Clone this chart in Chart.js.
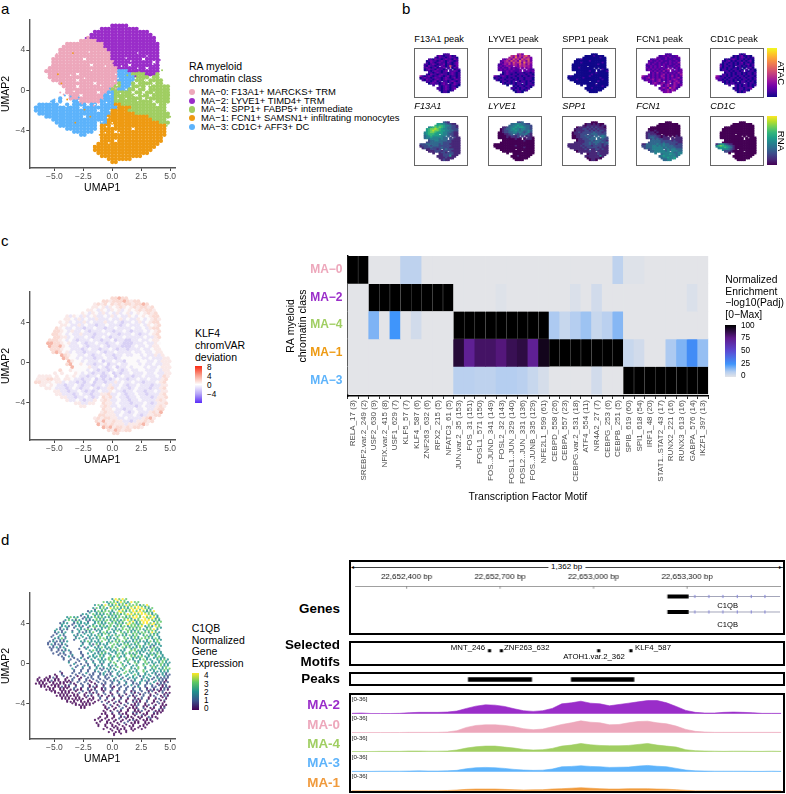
<!DOCTYPE html>
<html>
<head>
<meta charset="utf-8">
<script src="https://cdn.jsdelivr.net/npm/chart.js@4"></script>
<style>
html,body{margin:0;padding:0;background:#fff;}
body{position:relative;width:786px;height:794px;overflow:hidden;font-family:"Liberation Sans",Arial,sans-serif;}
canvas{position:absolute;}
.t{position:absolute;white-space:nowrap;transform:translateY(-50%);line-height:1;color:#000;}
.box{position:absolute;box-sizing:border-box;border:2.4px solid #000;}
.bar{position:absolute;}
</style>
</head>
<body>
<script>
// ---- data ----
var clusterColors = {ma0:'#eda7bb', ma2:'#9a2dc9', ma4:'#a0ce62', ma1:'#ee9a12', ma3:'#5db3fb'};

// UMAP panels are stored as bins: x from -6.9 step 0.3, y from 6.4 step -0.3, top row first, spaces ignored
var gridX0 = -6.9, gridY0 = 6.4, gridStep = 0.3;

// panel a: dominant cluster per bin (k MA-0, u MA-2, g MA-4, o MA-1, b MA-3)
var clusterRows = [
"..........  ..........  ...uuuuu",
"..........  ..........  uuuuuuuuuu  u",
"..........  ........uu  uuuuuuuuuu  uuuu",
"..........  .......uuu  uuuuuuuuuu  uuuuu",
"..........  ......kuuu  uuuuuuuuuu  uuuuuu",
"..........  ....kkkkku  uuuuuuuuuu  uuuuuu",
"..........  kkkkkkkkkk  kuuuuuuuuu  uuuuuuu",
".........k  kkkkkkkkkk  kuuuuuuuuu  uuuuuuu",
"........kk  kkkkkkkkkk  kkuuuuuuuu  uuuuuuu",
"........kk  kkkkkkkkkk  kkkuuuuuuu  uuuuuuu",
".......kkk  kkkkkkkkkk  kkkuuuuuuu  uuuuuuu",
"......kkkk  kkkkk.kkkk  kkkuuuuuuu  uu.uuuu",
"......kkkk  kkkkkkkkkk  kkkkuuuuuu  uuuuu.u",
"......kkkk  kkkkkkk.kk  kkkkuuuu.u  uuuuuuu",
".....kkkkk  kkkkkkkkkk  kkkkkuuuuu  uuu.uuu",
"....kkkkkk  kkkkkkkkkk  kkkkkbbbuu  uuuuuuu",
".....kkkkk  kkk.kkkkkk  kkkkkbbbbg  ggguuug",
".....kkkkk  kkkkkkkkkk  kkkkkbbbbb  gggg.gg",
"......kkkk  kkk.kkkkkk  kkkkkbbbbb  ggg.gggg",
"........kk  kkkkkkkk.k  kkkkkgbbbg  .gggg.gg",
".........k  kkk.kkkkkk  kkkkggbbbg  ggg.gggggg",
"..........  kkkkkkkkkk  kkkggbbbgg  .gg.gggggg",
"..........  kkkkkkkkk.  kkbbggggg.  gg.ggggggg",
"..........  .kkk.kkkkk  kbbbgggggg  .ggg.ggggg",
"........b.  .kkkkkkkkk  kbbbgggggg  gg.ggggggg",
"......b.b.  ..bbkkkkkk  bbbbgggggg  ggggg.gggg",
"..bbbbbb..  b.bbbb.bb.  bbbbooggg g  gggggg.gg",
".bbbbbbbbb  bbbb.bbbbb  bbbbboooog  ggggggggg",
".bbbbbbbbb  bbbbbbbbb.  bbbooooogg  ggggggggg",
"..bbbbbbbb  bbbbbbbbbb  bbbooooooo  gggggggggg",
"....bbbbbb  bbbbb.bbbb  bboooooooo  oooogggggg",
"......bbbb  bbbbbbbbbb  bboooooooo  ooooogggg",
".......bbb  bbbbbbbbb.  bboooooooo  oooooooggg",
"........bb  bbbbbbbbb.  ooo.oooooo  ooooooooo",
"..........  bbbbbbbbb.  ooooooooo.  ooooooooo",
"..........  ..bbbbbb..  oooo.ooooo  ooooooooo",
"..........  ....bb....  oooooooooo  ooooooooo",
"..........  ..........  oooooooooo  oooooooo",
"..........  ..........  oooo.ooooo  oooooooo",
"..........  .........o  oooooooooo  ooooooo",
"..........  ........oo  oooooooooo  oooooo",
"..........  ........oo  oooooooooo  ooooo",
"..........  .........o  oooooooooo  oooo",
"..........  ..........  oooooooooo  oo",
"..........  ..........  ..ooooooo",
"..........  ..........  ...oo"];
var clusterLetterColors = {k:clusterColors.ma0, u:clusterColors.ma2, g:clusterColors.ma4, o:clusterColors.ma1, b:clusterColors.ma3};
var specksWhite = [[0.3,1.6],[0.5,1.2],[0.2,0.9],[0.4,0.5],[1.6,0.4],[1.9,0.9],[2.4,0.3],[2.9,0],[3.3,0.5],[2.6,-0.4],[1.9,-0.5],[1.2,-0.8],[2,1.2],[2.8,1],[3.1,-0.9],[3.6,-0.2],[0.5,-0.8],[-0.2,-0.4],[-0.5,-1.2],[-1.5,-1.4],[-2.2,-1.3],[-2.9,-1],[-3.5,-1.2],[-4,-1.6],[-4.3,-1.2],[-0.2,-2],[-0.4,-2.7],[-0.9,-3.1],[-4.4,0.3],[-3,0.3],[-3.3,-0.1],[-1,0.5],[-2,3.8],[-1.8,2],[-0.6,2.4],[-3.6,1.5],[-2.4,1.2],[1.2,3.2],[2.2,3.7],[0.8,2.4],[2.2,2.2],[3.5,2.6],[1.6,2.9],[3,3.4],[0,-3.2],[-0.6,-4.2],[-0.5,-3.6],[-0.3,-5.2],[0.6,-4.2],[1.2,0.1],[2.2,-1],[3.9,-1.5],[0.7,-0.3]];
var specksMa3 = [[-4.1,-0.5],[-3.6,-0.6],[-2.9,-0.7],[-4.6,-1],[-5.3,-1.1],[-5,-0.9],[-6.5,-1.6],[-1,-0.9],[-0.7,-0.6],[-0.4,-0.2],[-0.2,0.2]];
var specksMa1 = [[-3.9,-0.9],[-4.4,0.7],[-3.2,-3.2],[-2.4,-1.9],[-1.9,-2.6],[-3.4,3.7],[-1.3,-5.9],[-1.6,-5.5],[-1.1,-4.4],[-1,-3.6],[-4.7,1.6]];
var specksMa0 = [[-4.5,-0.2],[-4.2,-0.4],[-3.4,-0.7],[-2.6,-1.3],[-1.6,-1.5],[-5.3,2.3],[-5.5,1.7],[-4.8,3.6],[-4.4,4.1],[0.2,1],[0.3,0.2]];
var specksMa2 = [[-2.3,5.2],[-1.5,5.4],[4.1,3],[4,2.5],[3.2,1.5],[2,1.4],[0.1,2.7],[0.3,6.5]];
var specksMa4 = [[4.3,2],[3.9,1.4],[4.9,-0.4],[5,-2.6],[4.7,-3.5],[1.3,1.5],[2.3,1.8]];

// panel c: chromVAR deviation per bin (w near white, p/r/R reds, v/V violets)
var klf4Rows = [
"..........  ..........  ...rrRrr",
"..........  ..........  rrprrrRrpr  r",
"..........  ........pr  prwrprprrp  rrRr",
"..........  .......ppw  pvpwprpwpr  prrpr",
"..........  ......ppwv  pwvpwpvwpw  prprrp",
"..........  ....pwvpwv  pvwvpvwpvw  pwprpr",
"..........  pvpwvpvwpv  vwvpvwvvpw  vwpwprr",
".........p  pwvpvwvvpv  vvwvvpvwvv  pwvwprp",
"........pw  pvwvvpvwvv  vpvvwvVvvw  vpvwprr",
"........pp  wvvpvwvvVv  vwvvvVvwvv  vwvpwpr",
".......rpw  vvwvvVvvwv  vVvvwvvvvw  vvwvprr",
"......rrpw  vpvvwvVvvv  wvvVvvwvVv  vvwvwpr",
"......rrpw  vwvvpvvvVv  vvwvvVvvvw  vVvvwpr",
"......rrpp  vwvvvwvVvv  wvVvvvwvvv  vvwvvpr",
".....rrrpw  vwvVvvvwvv  VvvwVvvVVv  vwvvwpp",
"....RRrrpw  pvvwvVvvwv  vVvvwvVVVv  vvwvvpw",
".....RrrRp  wvvvwvVvvv  wvVvvvVVVv  wvvwvpp",
".....rrrpw  wvvvVvwvvV  vvwvVvvVvv  vwvvwpp",
"......rRrw  pvwvvVvvvw  vVvvwvvvvw  vvwvvwpp",
"........Rr  pwwvvwvVvv  wvvVvvwvvw  wvwvvpvp",
".........R  rwwvwvvvVv  vwvvVvwwww  wwvvwvvvpp",
"..........  Rpwwvwvvvw  VvvwvvVwww  vwwvvwvppp",
"..........  rRwwpwvvVv  vwVvvwvvww  wvwvvwvvpp",
"..........  .Rwwwwpvvw  vVvwVvvwvw  wwvwvvwppp",
"........r.  .pwwwwvwvV  vvVvwvVvwv  vwwvvvwvpp",
"......p.p.  ..pwvwvVvv  VvwVvVvvwv  vvwvvwvvpp",
"..pppp.p..  pwpwvvVvvw  VVvwVvwvvV  vvwvvvwvrp",
".ppprrpp.p  pwvvVvvwVv  VvVvwvvVvv  wvvwvvvpr",
".rrpppwppv  wvvVvVvwVv  vVvvpvwvvw  vvVvvvwpr",
"..ppwpwvvV  vvwvVvvVvv  wvpvvwvVvv  wvvvVvvpp",
"....ppwvvv  VvwvVvvwvV  vvprvwvvVv  wvvvVvvpr",
"......ppvv  VvvwvVvVvw  vvpwvvVvvw  vvVvvwvpp",
".......ppv  vvVvwvvVvv  pprvvwvVvv  wvvVvvvpr",
"........pp  vvVvvwvVv.  rprvwvvVvv  wvvvVvppr",
"..........  pvvwvVvvp.  prpvvwvvVv  vwvvvvprp",
"..........  ..ppvvpp..  rppvwvvvVv  vvwvVvppr",
"..........  ....pp....  prpvvwvvvv  Vvwvvvprp",
"..........  ..........  rppwvvVvvw  vvwvvprr",
"..........  ..........  prppvvwvVv  wvvvprpR",
"..........  .........r  rpppvwvvvw  vVvpprr",
"..........  ........pr  prrppvvwvv  vvprRp",
"..........  ........rp  RpprppvvVv  pprpr",
"..........  .........R  prprpppvpp  prRp",
"..........  ..........  RrRprrprpr  rp",
"..........  ..........  ..rpRrprr",
"..........  ..........  ...rr"];
var klf4Colors = {w:'#fcfafb', p:'#fae9e8', r:'#fadbd4', R:'#f6b6a8', v:'#ebe6f8', V:'#d8d0f5'};

// panel d: C1QB expression per bin, 0-4, '.' is an empty bin; second list sits half a bin lower
var c1qbRows = [
"..........  ..........  ...24343",
"..........  ..........  3233243243  3",
"..........  ........23  2432323433  3234",
"..........  .......232  3243323243  44323",
"..........  ......1223  2332.43234  343234",
"..........  ....22.322  2323323443  344323",
"..........  2322.12232  3223233234  4343342",
".........2  3212.21233  2323223432  3444332",
"........12  2.12222.23  2233232343  2344343",
"........22  1.221.2322  3232323233  3423243",
".......212  1..2223212  2.32223332  3323342",
"......1212  .2.21223.2  3222.32323  2332432",
"......1.21  ..222.2223  2.32332232  3.23232",
"......2132  ..22.12223  32223.3223  2333232",
".....12111  2...223222  3.22323222  3222323",
"....121112  ....2.2132  22.3223322  3.23222",
".....11212  .....12.22  32232.3232  2322132",
".....1.111  2.....2322  2.22322.33  2222322",
"......1.11  .1..1.2.22  322.232322  32.22232",
"........1.  21..1.2223  2.32322.33  2322.232",
".........1  .1.1.1.2.2  2232.3.232  .2322.2232",
"..........  2.1..1.2.2  2.23.3.2.3  2.32222322",
"..........  .1.1.12.12  2.222.32.2  2.3.232322",
"..........  .2..1.1.21  1222.23.22  3.2.232233",
"........1.  ..1.1.1.12  .212.2.322  2.32.22222",
"......0.1.  ..1.1.11.1  211.22.2.3  2.22.21211",
"..0.0010..  0.1.0.11.1  .11.2.1.22  2.22.12111",
".0000100.0  01.1.10.1.  1.121.2.12  .221.2110",
".0000.0000  .10.1.1.0.  11.1.1.2.1  12.12.011",
"..000.0010  0.1.1.010.  1.10.1.1.1  2.1.11.010",
"....000.00  .0100.101.  01.1.1.1.1  .1.1101010",
"......0000  00.1.0101.  1.0.1.1.10  1.11.0.100",
".......000  0000.010.1  0.01.01.10  1.1.01.010",
"........00  00000.00.1  .1.0.1.0.1  01.0.01.0",
"..........  000.000.0.  1.0.10.0.1  00.1.01.0",
"..........  ..00000...  0.1.0.1.00  1.01.0.00",
"..........  ....00....  .01.0.1.00  0.1.00.01",
"..........  ..........  0.0.10.0.0  01.0.000",
"..........  ..........  00.0.100.0  1.00.00.",
"..........  .........0  .0.0.0100.  00.100.",
"..........  ........0.  0.0.0.0.01  0.000.",
"..........  ........0.  .00.0.1.00  0.00",
"..........  .........0  .0.00.0.00  .00",
"..........  ..........  0.0.000.00  .0",
"..........  ..........  ..0.00.0",
"..........  ..........  ...0"];
var c1qbRowsB = [
"..........  ..........  ...3433",
"..........  ..........  .2343323.3",
"..........  .........2  3.23432334  4323",
"..........  .......1.3  2.33243344  3432",
"..........  ......2.23  3.22343.34  44332",
"..........  ...1.2.232  .3223.3334  3.4432",
"..........  2.3.122.32  2.323.3324  3.43423",
"........1.  .232.1.222  3.2323.342  344.233",
"........2.  .1.2.2.2.3  2.3.23.433  23.3423",
".......1.2  .1.2.1.3.2  23.2.3.232  3.23.32",
"......2.1.  .1.2.12.22  .3.232.322  3.2332",
"......1.2.  ..1.2.2.22  32.2.32.33  23.322",
".....1.2.1  ..1.2.2.23  .22.2.3.23  2.322.2",
".....1.21.  .1..2.2.2.  32.23.3.22  3.2.232",
"....1.1.2.  ....1.2.22  .23.3.22.3  2.22.23",
".....1.1.1  ...2..2.1.  2.3.2.32.2  32.21.2",
".....1.1.2  ...1.2..22  .22.3.2.23  .22.322",
"......1.2.  1..1..2.12  3.22.2.3.2  22.3.22",
".......1.1  .2..1..2.2  2.2.3.2.32  .2.232.2",
"........1.  .1.2.1.2.2  .32.2.3.22  3.2.2322",
"..........  1..1.2.1.2  2.3.2.23.2  2.3.2.232",
"..........  .2.1.1.2.1  .2.3.2.2.3  .23.2.322",
"..........  ..1.2.1.2.  2.1.3.2.2.  3.2.32.23",
"..........  .1.1.1.2.1  .2.2.2.3.2  .3.22.232",
"........0.  .1.1.2.1.1  2.1.2.3.2.  2.2.21.21",
"....0.0.1.  1.0.1.1.1.  1.2.1.2.2.  12.2.1.21",
".0.00.00.0  .1.0.1.1.1  .1.1.2.1.2  .1.21.211",
".00.00.000  0.1.1.0.1.  1.1.2.1.1.  2.1.2.101",
"..00.000.0  1.0.1.0.1.  0.1.1.1.2.  1.1.1.101",
"....00.000  .1.0.1.0.0  1.0.1.1.1.  1.0.1.011",
".....00.00  0.0.1.0.1.  0.1.0.1.01  .1.01.01",
".......000  .00.0.1.0.  1.0.1.0.1.  01.0.1.01",
"........00  0.00.0.0.1  .0.1.0.1.0  .1.0.1.01",
".........0  .000.00.0.  0.0.1.0.01  0.1.0.01",
"..........  .00.0000..  .1.0.0.1.0  1.0.0.10",
"..........  ...00.....  0.0.1.0.01  .00.1.00",
"..........  ..........  .0.0.1.0.0  1.0.0.10",
"..........  ..........  0.1.0.0.10  0.0.100",
"..........  ..........  .0.0.1.0.0  .10.0.",
"..........  ........0.  0.0.1.0.0.  0.01.0",
"..........  .........0  .0.0.0.1.0  0.0.0",
"..........  ........0.  0.0.0.0.0.  .00",
"..........  ..........  .0.00.0.0.  0.0",
"..........  ..........  ..0.0.0.0",
"..........  ..........  ...0.0"];
var viridis5 = ['#440154','#3b528b','#21908c','#5dc863','#fde725'];

// panel b: binned signal, 0-9; x from -6.9 step 0.6, y from 6.4 step -0.6; binLead is the empty bins left of each row
var binX0 = -6.9, binY0 = 6.4, binStep = 0.6;
var binLead = [12,9,8,5,4,4,3,3,3,3,5,5,4,1,1,2,4,5,7,10,9,10,11];
var f13a1Peak = ["111","121011201","10211012110","11021101211021","012110121012101","102101211021012","1101210112011012","1021101.21015102","1210120112.1.021","01211021101.1.011","101211012.11210","110121011012101","1021101211012101","3101210112101201101","0121101211012101201","102110121012110121","1101201.11012101","012110121.10211","1..0121101210","101210110","110121012","1012101","0110"];
var lyve1Peak = ["342","435243463","34263425342","21342534253452","123425342634252","213342534526343","1123242432534242","1212322.32434332","2121131212.2.232","12121212112.2.211","112121112.21212","012111011101101","1012101101110110","2101210111011011011","0110110101101101110","101101110101101110","0110101.10110101","101101011.10110","0..1011010111","010110110","110101101","0110101","0110"];
var spp1Peak = ["000","000010000","00000000100","00100000000000","000000010000000","000100000000010","0000000000001000","0000000.00000000","0001000000.0.000","00000000000.0.100","000000100.00001","000000000100000","0000000010000000","0100000000100000000","0000000100000001000","000100000000000100","0000000.00010000","000000000.00000","0..0000100000","000000010","000100000","0000000","0000"];
var fcn1Peak = ["111","112121112","21112121112","11212112111211","121121211121121","211212112121213","1212112121121121","1121212.21211212","2121212121.2.121","12121212123.2.212","212121312.21212","121312121212132","2121212312121213","3212121213212131212","2123121212312121231","121231231212123212","2121231.12312321","123212312.13231","2..3123213212","212312321","123215231","2123132","2232"];
var cd1cPeak = ["101","010120010","10101210101","01012101101010","101201011010120","011010101201010","1010110101101201","2011010.11010101","1010110101.0.120","01101011010.1.010","110101101.10110","011010110101101","1101010110101101","3201101011011010110","2211010110101101101","110101101010110101","1010101.01101010","010110101.10110","1..1010110101","101011010","010110112","1011010","0101"];
var f13a1Rna = ["321","554432211","65665443221","45676765433221","567787654433222","567877655443322","4567765554433211","4566655.54432211","3456555544.3.211","34454444433.2.211","344443433.22111","233443333221111","2233333322221111","2223333332322211111","1222323332222221111","122232222322211111","1122212.23222111","111222122.21111","1..1221222111","112223211","111222511","1112111","1211"];
var lyve1Rna = ["223","334443322","33445443332","11234454554332","012334544344332","012234454343343","0012233443432342","0001123.32333421","0000112212.2.121","00001011121.1.110","000000100.01110","000000000010000","0000000000000000","0000000000000000000","0000000000100000000","000000000000010000","0000000.00000000","000000000.00000","0..0000000000","000000000","000100000","0000000","0000"];
var spp1Rna = ["000","011010100","10111111011","01111212121110","111122121212111","011112212121221","0112122222322212","0111222.23332222","0011223232.3.343","00112223233.3.432","011222333.32322","011122232333221","1111122323332323","1111111222322322122","1111112122212222121","111111212222212111","1111121.11221211","011111211.11111","1..1111121111","011112111","111111141","0111110","0110"];
var fcn1Rna = ["000","000000000","00000000000","00000000000000","000000000000000","100100000000000","1111010000000000","1211100.00000000","1222211010.0.010","12332210111.1.111","232322111.11111","333332222212111","2333332322222211","1133333433433222122","2233344343433332222","233344444343333222","2344444.34344333","334444434.44433","4..4444443344","344454434","345444443","3445445","3344"];
var cd1cRna = ["000","000000000","00000000000","00000000000000","000000000000000","000000000000000","0000000000000000","0000000.00000000","0000000000.0.000","00000000000.0.000","000000000.00000","000000000000000","0000000000000000","1345321100000000000","4676543210000000000","455654310000000000","4443210.00000000","222100000.00000","0..0000000000","000000000","000000000","0000000","0000"];
var plasma10 = ['#10078a','#47039f','#7301a8','#9c179e','#bd3786','#d8576b','#ed7953','#fb9f3a','#fdca26','#f0f921'];
var viridis10 = ['#440154','#482878','#3e4989','#31688e','#26828e','#1f9e89','#35b779','#6ece58','#b5de2b','#fde725'];

// panel c heatmap
var motifs = ['RELA_17 (3)','SREBF2.var.2_249 (2)','USF2_630 (9)','NFIX.var.2_415 (8)','USF1_629 (7)','KLF5_57 (7)','KLF4_587 (6)','ZNF263_632 (6)','RFX2_215 (5)','NFATC3_61 (5)','JUN.var.2_35 (153)','FOS_31 (151)','FOSL1_571 (150)','FOS..JUND_341 (149)','FOSL2_32 (143)','FOSL1..JUN_329 (140)','FOSL2..JUN_331 (136)','FOS..JUNB_335 (129)','NFE2L1_599 (61)','CEBPD_558 (26)','CEBPA_557 (23)','CEBPG.var.2_531 (18)','ATF4_554 (11)','NR4A2_27 (7)','CEBPG_253 (6)','CEBPB_251 (5)','SPIB_619 (60)','SPI1_618 (54)','IRF1_48 (20)','STAT1..STAT2_43 (17)','RUNX2_221 (16)','RUNX3_613 (16)','GABPA_576 (14)','IKZF1_397 (13)'];
var heatRowNames = ['MA\u22120','MA\u22122','MA\u22124','MA\u22121','MA\u22123'];
var heatMa0 = [100,100,0,0,0,8,8,0,0,0,0,0,0,0,0,0,0,0,0,0,0,0,0,0,0,8,1,1,0,0,0,0,0,0];
var heatMa2 = [0,0,100,100,100,100,100,100,100,100,0,0,0,0,1,0,0,0,0,0,0,2,0,4,0,0,0,0,0,0,0,0,2,0];
var heatMa4 = [0,0,17,0,25,0,4,0,0,0,100,100,100,100,100,100,100,100,100,11,6,10,13,6,9,16,0,0,0,0,0,0,0,0];
var heatMa1 = [0,0,0,0,0,0,0,0,0,0,90,72,82,82,78,85,88,72,95,100,100,100,100,100,100,100,6,4,0,0,11,17,28,14];
var heatMa3 = [0,0,0,0,0,0,0,0,0,0,9,9,8,8,10,10,9,6,3,0,0,0,0,4,0,0,100,100,100,100,100,100,100,100];
var heatStops = [[0,'#e3e4e8'],[10,'#b5cef0'],[25,'#3f95fb'],[50,'#5b4ad2'],[75,'#5f1a8c'],[100,'#000000']];

// panel d tracks, positions in bp
var bpMin = 22652237, bpMax = 22653599;
var genomeTicks = [22652400,22652700,22653000,22653300];
var exonSpan = [22653237,22653305];
var intronEnd = 22653599;
var intronArrows = [22653325,22653370,22653415,22653461,22653506,22653550];
var motifSites = [22652667,22652705,22653016,22653119];
var peakOne = [22652604,22652805];
var peakTwo = [22652927,22653126];
var coverageBp = [22652240,22652270,22652300,22652330,22652360,22652390,22652420,22652450,22652480,22652510,22652540,22652570,22652600,22652630,22652660,22652690,22652720,22652750,22652780,22652810,22652840,22652870,22652900,22652930,22652960,22652990,22653020,22653050,22653080,22653110,22653140,22653170,22653200,22653230,22653260,22653290,22653320,22653350,22653380,22653410,22653440,22653470,22653500,22653530,22653560,22653590];
var coverageMa2 = [0.6,1.2,0.3,0.3,0.3,0.6,1.8,2.4,2.4,2.4,3,4.8,9.6,13.8,16.2,15.6,13.2,9,5.4,4.2,5.4,9.6,18,19.8,22.8,19.2,18,14.4,16.8,19.2,21.6,24,24,19.8,13.2,6,2.4,1.2,1.2,2.4,3,2.4,1.8,0.6,0.6,0.6];
var coverageMa0 = [0.3,0.3,0.3,0.3,0.3,0.3,0.6,0.6,0.6,0.6,1.2,3.6,9.6,13.2,14.4,14.4,13.2,10.8,7.2,5.4,6.6,10.8,15,18,21.6,19.2,18,14.4,15,18,20.4,21,18,16.2,12,6,2.4,1.2,0.6,0.6,0.6,0.6,0.6,0.6,0.6,0.6];
var coverageMa4 = [0.3,0.3,0.3,0.6,0.6,0.6,1.2,1.2,0.9,0.9,1.2,3,6.6,9,10.2,10.2,8.4,6.6,4.2,3,3.6,6,10.2,12,15,12.6,11.4,10.8,10.8,11.4,13.2,15,12,10.2,8.4,3.6,1.8,1.2,0.9,0.6,0.9,0.9,0.6,0.6,0.9,0.6];
var coverageMa3 = [0.6,0.6,0.6,0.9,0.9,0.9,1.2,1.5,1.2,1.2,1.5,2.4,5.4,7.2,7.8,7.2,6,4.2,3,2.4,2.7,4.8,9,9.6,10.8,9.6,9,7.8,8.1,8.4,10.2,11.4,9.9,9,6,3,1.5,1.2,0.9,0.9,0.9,0.9,0.6,0.6,0.9,0.6];
var coverageMa1 = [0,0,0,0,0,0,0,0,0,0,0.3,1.2,2.4,3,3,3,2.4,1.8,1.2,1.5,1.8,3,3.6,4.5,5.4,4.5,3.6,3,3,3.6,3.6,3.6,3,2.7,1.8,0.6,0,0,0,0,0,0,0,0,0,0];

var umapXTicks = [-5,-2.5,0,2.5,5];
var umapYTicks = [-4,0,4];
var FONT = '"Liberation Sans", Arial, sans-serif';

// ---- helpers ----
Chart.defaults.font.family = FONT;
Chart.defaults.animation = false;
Chart.defaults.responsive = false;
Chart.defaults.plugins.legend.display = false;
Chart.defaults.plugins.tooltip.enabled = false;

function addCanvas(x, y, w, h) {
    var c = document.createElement('canvas');
    c.width = w; c.height = h;
    c.style.left = x + 'px'; c.style.top = y + 'px';
    c.style.width = w + 'px'; c.style.height = h + 'px';
    document.body.appendChild(c);
    return c.getContext('2d');
}
function text(str, x, y, size, opts) {
    opts = opts || {};
    var d = document.createElement('div');
    d.className = 't';
    d.textContent = str;
    d.style.top = y + 'px';
    d.style.fontSize = size + 'px';
    if (opts.right) { d.style.right = (786 - x) + 'px'; } else { d.style.left = x + 'px'; }
    if (opts.center) d.style.transform = 'translate(-50%,-50%)';
    if (opts.bold) d.style.fontWeight = 'bold';
    if (opts.italic) d.style.fontStyle = 'italic';
    if (opts.color) d.style.color = opts.color;
    if (opts.vertical) { d.style.writingMode = 'vertical-rl'; d.style.transform = 'translate(-50%,-50%)'; }
    if (opts.bg) { d.style.background = opts.bg; d.style.padding = '0 3px'; }
    document.body.appendChild(d);
}
function colorBar(x, y, w, h, css) {
    var d = document.createElement('div');
    d.className = 'bar';
    d.style.cssText = 'left:' + x + 'px;top:' + y + 'px;width:' + w + 'px;height:' + h + 'px;background:' + css;
    document.body.appendChild(d);
}
function box(x, y, w, h) {
    var d = document.createElement('div');
    d.className = 'box';
    d.style.cssText = 'left:' + x + 'px;top:' + y + 'px;width:' + w + 'px;height:' + h + 'px';
    document.body.appendChild(d);
}
function pts(list) { return list.map(function (p) { return {x: p[0], y: p[1]}; }); }
function dots(list, color, r) {
    return {type: 'scatter', data: pts(list), backgroundColor: color, borderWidth: 0, pointRadius: r, order: 1};
}
// stagger shifts every other row by half a bin
function gridPoints(rows, x0, y0, dx, dy, stagger) {
    var out = [];
    rows.forEach(function (raw, r) {
        var row = raw.replace(/ /g, '');
        for (var c = 0; c < row.length; c++) {
            if (row[c] !== '.') out.push({x: x0 + c * dx + (stagger && r % 2 ? dx / 2 : 0), y: y0 - r * dy, v: row[c]});
        }
    });
    return out;
}
function noPad(s) { s.paddingLeft = s.paddingRight = s.paddingTop = s.paddingBottom = 0; }
function fmtTick(v) {
    var s = this.axis === 'y' ? String(Math.abs(v)) : Math.abs(v).toFixed(1);
    return (v < 0 ? '\u2212' : '') + s;
}
var LEFT = 29.3, RIGHT = 175, UNITX = 11.57;
function umapChart(top, bottom, y0px, unitY, datasets) {
    // top and bottom are the axis ends in page pixels, y0px the page row of UMAP2 = 0
    var ctx = addCanvas(0, top - 4, 186, bottom - top + 4 + 28);
    return new Chart(ctx, {
        type: 'scatter',
        data: {datasets: datasets},
        options: {
            layout: {padding: {top: 4, right: 11}},
            scales: {
                x: {min: (LEFT - 112.3) / UNITX, max: (RIGHT - 112.3) / UNITX,
                    afterBuildTicks: function (s) { s.ticks = umapXTicks.map(function (v) { return {value: v}; }); },
                    afterFit: function (s) { s.height = 28; noPad(s); },
                    grid: {drawOnChartArea: false, tickLength: 3, color: '#444'},
                    border: {color: '#555', width: 1.4},
                    ticks: {callback: fmtTick, color: '#4d4d4d', font: {size: 8.5}, padding: 1, maxRotation: 0},
                    title: {display: true, text: 'UMAP1', color: '#000', font: {size: 10.5}, padding: {top: 0, bottom: 2}}},
                y: {min: (y0px - bottom) / unitY, max: (y0px - top) / unitY,
                    afterBuildTicks: function (s) { s.ticks = umapYTicks.map(function (v) { return {value: v}; }); },
                    afterFit: function (s) { s.width = LEFT; noPad(s); },
                    grid: {drawOnChartArea: false, tickLength: 3, color: '#444'},
                    border: {color: '#555', width: 1.4},
                    ticks: {callback: fmtTick, color: '#4d4d4d', font: {size: 8.5}, padding: 1},
                    title: {display: true, text: 'UMAP2', color: '#000', font: {size: 10.5}, padding: {top: 0, bottom: 0}}}
            }
        }
    });
}
function binChart(x, y, rows, palette) {
    var ctx = addCanvas(x, y, 53, 49);
    var padded = rows.map(function (row, r) { return '.'.repeat(binLead[r]) + row; });
    new Chart(ctx, {
        type: 'scatter',
        data: {datasets: [{data: gridPoints(padded, binX0, binY0, binStep, binStep), pointStyle: 'rect', pointRadius: 1.9, borderWidth: 0,
            backgroundColor: function (c) { return c.raw ? palette[+c.raw.v] : '#000'; }}]},
        options: {scales: {x: {display: false, min: -7.1, max: 5.6}, y: {display: false, min: -7.6, max: 7.0}}}
    });
}
function gradient(dir, stops) { return 'linear-gradient(' + dir + ',' + stops.join(',') + ')'; }
function hexMix(a, b, t) {
    var p = function (h, i) { return parseInt(h.substr(i, 2), 16); };
    var m = [1, 3, 5].map(function (i) { return Math.round(p(a, i) + (p(b, i) - p(a, i)) * t); });
    return 'rgb(' + m.join(',') + ')';
}
function heatColor(v) {
    for (var i = 1; i < heatStops.length; i++) {
        if (v <= heatStops[i][0]) {
            return hexMix(heatStops[i - 1][1], heatStops[i][1], (v - heatStops[i - 1][0]) / (heatStops[i][0] - heatStops[i - 1][0]));
        }
    }
    return '#000000';
}

// ---- panel letters ----
text('a', 1, 8, 15);
text('b', 402, 8, 15);
text('c', 1, 240, 15);
text('d', 1, 539, 15);

// ---- panel a ----
umapChart(20, 168, 90.4, 10.1, [
    dots(specksWhite, '#ffffff', 0.8),
    dots(specksMa3, clusterColors.ma3, 1),
    dots(specksMa1, clusterColors.ma1, 0.9),
    dots(specksMa0, clusterColors.ma0, 1),
    dots(specksMa2, clusterColors.ma2, 1),
    dots(specksMa4, clusterColors.ma4, 1),
    {data: gridPoints(clusterRows, gridX0, gridY0, gridStep, gridStep), pointRadius: 2.15, borderWidth: 0, order: 9,
     backgroundColor: function (c) { return c.raw ? clusterLetterColors[c.raw.v] : '#fff'; }}
]);
text('RA myeloid', 189, 66, 10.5);
text('chromatin class', 189, 78, 10.5);
var legendA = [['MA\u22120: F13A1+ MARCKS+ TRM', clusterColors.ma0], ['MA\u22122: LYVE1+ TIMD4+ TRM', clusterColors.ma2], ['MA\u22124: SPP1+ FABP5+ intermediate', clusterColors.ma4], ['MA\u22121: FCN1+ SAMSN1+ infiltrating monocytes', clusterColors.ma1], ['MA\u22123: CD1C+ AFF3+ DC', clusterColors.ma3]];
legendA.forEach(function (l, i) {
    var y = 92 + i * 8.7;
    var d = document.createElement('div');
    d.style.cssText = 'position:absolute;left:189px;top:' + (y - 3.2) + 'px;width:6.4px;height:6.4px;border-radius:50%;background:' + l[1];
    document.body.appendChild(d);
    text(l[0], 201, y, 9.45);
});

// ---- panel b ----
var binXs = [414.3, 488.3, 562.3, 636.3, 710.3];
var peakPanels = [['F13A1 peak', f13a1Peak], ['LYVE1 peak', lyve1Peak], ['SPP1 peak', spp1Peak], ['FCN1 peak', fcn1Peak], ['CD1C peak', cd1cPeak]];
var rnaPanels = [['F13A1', f13a1Rna], ['LYVE1', lyve1Rna], ['SPP1', spp1Rna], ['FCN1', fcn1Rna], ['CD1C', cd1cRna]];
peakPanels.forEach(function (p, i) {
    binChart(binXs[i], 48.5, p[1], plasma10);
    text(p[0], binXs[i], 39.5, 9.2);
    var d = document.createElement('div');
    d.style.cssText = 'position:absolute;box-sizing:border-box;border:1px solid #666;left:' + binXs[i] + 'px;top:48px;width:53.5px;height:49.5px';
    document.body.appendChild(d);
});
rnaPanels.forEach(function (p, i) {
    binChart(binXs[i], 116.5, p[1], viridis10);
    text(p[0], binXs[i], 107, 9.2, {italic: true});
    var d = document.createElement('div');
    d.style.cssText = 'position:absolute;box-sizing:border-box;border:1px solid #666;left:' + binXs[i] + 'px;top:116px;width:53.5px;height:49.5px';
    document.body.appendChild(d);
});
colorBar(767, 48, 9.5, 49, gradient('to top', plasma10));
colorBar(767, 116, 9.5, 49, gradient('to top', viridis10));
text('ATAC', 781.5, 72.5, 9.6, {vertical: true});
text('RNA', 781.5, 141, 9.6, {vertical: true});

// ---- panel c, UMAP ----
umapChart(292, 440, 362.3, 10, [{
    data: gridPoints(klf4Rows, gridX0, gridY0, gridStep, gridStep, true), pointRadius: 1.95, borderWidth: 0,
    backgroundColor: function (c) { return c.raw ? klf4Colors[c.raw.v] : '#fff'; }
}]);
text('KLF4', 195, 333, 10.5);
text('chromVAR', 195, 345, 10.5);
text('deviation', 195, 357, 10.5);
colorBar(195, 366, 7.4, 37, gradient('to bottom', ['#fb2a12', '#f9a08e', '#ffffff', '#b8a8f8', '#5a2cf8']));
[['8', 368], ['4', 376.7], ['0', 385.7], ['\u22124', 395]].forEach(function (l) { text(l[0], 207, l[1], 8.2); });

// ---- panel c, heatmap ----
var heatRows = [heatMa0, heatMa2, heatMa4, heatMa1, heatMa3];
var heatTickColors = [clusterColors.ma0, clusterColors.ma2, clusterColors.ma4, clusterColors.ma1, clusterColors.ma3];
new Chart(addCanvas(285, 250, 431, 253), {
    type: 'bar',
    data: {
        labels: motifs,
        datasets: heatRows.map(function (vals) {
            return {data: vals.map(function () { return 1; }), backgroundColor: vals.map(heatColor), barPercentage: 1, categoryPercentage: 1,
                borderColor: 'rgba(90,90,90,0.8)', borderWidth: vals.map(function (v) { return v === 100 ? 0.5 : 0; })};
        })
    },
    options: {
        layout: {padding: {top: 6, right: 7.7}},
        scales: {
            x: {stacked: true,
                afterFit: function (s) { s.height = 107; noPad(s); },
                grid: {drawOnChartArea: false, tickLength: 3, color: '#333'},
                border: {color: '#000', width: 1.4},
                ticks: {autoSkip: false, minRotation: 90, maxRotation: 90, color: '#4d4d4d', font: {size: 8}, padding: 1},
                title: {display: true, text: 'Transcription Factor Motif', color: '#000', font: {size: 10.5}, padding: {top: 0, bottom: 0}}},
            y: {stacked: true, reverse: true, min: 0, max: 5.07,
                afterBuildTicks: function (s) { s.ticks = [0.5, 1.5, 2.5, 3.5, 4.5].map(function (v) { return {value: v}; }); },
                afterFit: function (s) { s.width = 62.5; noPad(s); },
                grid: {drawOnChartArea: false, drawTicks: false},
                border: {color: '#000', width: 1.4},
                ticks: {callback: function (v) { return heatRowNames[Math.floor(v)]; }, padding: 5,
                    color: function (c) { return heatTickColors[c.index]; }, font: {size: 12, weight: 'bold'}},
                title: {display: true, text: ['RA myeloid', 'chromatin class'], color: '#000', font: {size: 10.5, lineHeight: 1.15}, padding: {top: 0, bottom: 0}}}
        }
    }
});
['Normalized', 'Enrichment', '\u2212log10(Padj)', '[0\u2212Max]'].forEach(function (s, i) { text(s, 725.3, 279.7 + i * 11.8, 10.3); });
colorBar(725.3, 325, 10.7, 51.7, gradient('to top', heatStops.map(function (s) { return s[1] + ' ' + s[0] + '%'; })));
[['100', 325.5], ['75', 338], ['50', 350.7], ['25', 363.7], ['0', 376]].forEach(function (l) { text(l[0], 741, l[1], 8.2); });

// ---- panel d, UMAP ----
function c1qbColor(c) { return c.raw ? viridis5[+c.raw.v] + 'd0' : '#fff'; }
umapChart(593, 739.3, 663.7, 10.1, [
    {data: gridPoints(c1qbRows, gridX0, gridY0, gridStep, gridStep, true), pointRadius: 1.15, borderWidth: 0, backgroundColor: c1qbColor},
    {data: gridPoints(c1qbRowsB, gridX0 + gridStep / 2, gridY0 - gridStep / 2, gridStep, gridStep, true), pointRadius: 1.15, borderWidth: 0, backgroundColor: c1qbColor}
]);
['C1QB', 'Normalized', 'Gene', 'Expression'].forEach(function (s, i) { text(s, 191.7, 628 + i * 11.6, 10.5); });
colorBar(191.7, 672.7, 7.4, 37.3, gradient('to top', viridis5));
[['4', 676], ['3', 684.7], ['2', 692.7], ['1', 701], ['0', 709]].forEach(function (l) { text(l[0], 204, l[1], 8.2); });

// ---- panel d, tracks ----
box(349, 560, 435.5, 74.5);
box(349, 641, 435.5, 24.5);
box(349, 671.5, 435.5, 14.7);
box(349, 692.5, 435.5, 100.3);

// ruler above the ticks
colorBar(352, 567, 431, 0.8, '#444');
text('1,362 bp', 566.7, 566.7, 8, {center: true, bg: '#fff'});
text('\u25C2', 350.5, 566.5, 6);
text('\u25B8', 779, 566.5, 6);

function trackScaleX() { return {type: 'linear', display: false, min: bpMin, max: bpMax}; }
function hLine(y, a, b, w, color) {
    return {type: 'scatter', data: [{x: a, y: y}, {x: b, y: y}], showLine: true, borderColor: color, borderWidth: w, pointRadius: 0};
}
// genes
new Chart(addCanvas(351, 569, 433.5, 63), {
    type: 'scatter',
    data: {datasets: [
        hLine(11.4, exonSpan[0], exonSpan[1], 4, '#000'),
        hLine(28.7, exonSpan[0], exonSpan[1], 4, '#000'),
        hLine(11.4, exonSpan[1], intronEnd, 0.8, '#8d8fa8'),
        hLine(28.7, exonSpan[1], intronEnd, 0.8, '#8d8fa8'),
        {data: intronArrows.map(function (b) { return {x: b, y: 11.4}; }), pointStyle: 'line', rotation: 90, radius: 1.6, borderColor: '#5a5ae0', borderWidth: 0.8},
        {data: intronArrows.map(function (b) { return {x: b, y: 28.7}; }), pointStyle: 'line', rotation: 90, radius: 1.6, borderColor: '#5a5ae0', borderWidth: 0.8},
        {data: genomeTicks.map(function (b) { return {x: b, y: 1.2}; }), pointStyle: 'line', rotation: 90, radius: 1.4, borderColor: '#777', borderWidth: 0.8}
    ]},
    options: {
        scales: {
            x: {type: 'linear', position: 'top', min: bpMin, max: bpMax,
                afterBuildTicks: function (s) { s.ticks = genomeTicks.map(function (v) { return {value: v}; }); },
                afterFit: function (s) { s.height = 17.3; noPad(s); },
                grid: {display: false, drawTicks: false},
                border: {color: '#888', width: 0.8},
                ticks: {callback: function (v) { return v.toLocaleString('en-US') + ' bp'; }, color: '#111', font: {size: 8}, padding: 5, maxRotation: 0}},
            y: {display: false, reverse: true, min: 0, max: 45.7}
        }
    }
});
text('C1QB', 727.7, 606.3, 7.6, {center: true});
text('C1QB', 727.7, 625.3, 7.6, {center: true});
// motifs
new Chart(addCanvas(351, 643, 433.5, 20), {
    type: 'scatter',
    data: {datasets: [{data: motifSites.map(function (b) { return {x: b, y: 1}; }), pointStyle: 'rect', radius: 2.2, backgroundColor: '#000', borderWidth: 0}]},
    options: {scales: {x: trackScaleX(), y: {display: false, min: 0, max: 1.45}}}
});
text('MNT_246', 485, 647.7, 7.8, {right: true});
text('ZNF263_632', 504, 647.7, 7.8);
text('KLF4_587', 635, 647.7, 7.8);
text('ATOH1.var.2_362', 594, 656.7, 7.8, {center: true});
// peaks
new Chart(addCanvas(351, 673.5, 433.5, 11), {
    type: 'scatter',
    data: {datasets: [hLine(0.5, peakOne[0], peakOne[1], 4.6, '#000'), hLine(0.5, peakTwo[0], peakTwo[1], 4.6, '#000')]},
    options: {scales: {x: trackScaleX(), y: {display: false, min: 0, max: 1}}}
});
// coverage
var coverageTracks = [
    {values: coverageMa2, color: clusterColors.ma2, name: 'MA-2', base: 713, nameY: 705, rangeY: 698.7},
    {values: coverageMa0, color: clusterColors.ma0, name: 'MA-0', base: 732.3, nameY: 725, rangeY: 718},
    {values: coverageMa4, color: clusterColors.ma4, name: 'MA-4', base: 751.7, nameY: 744, rangeY: 737.7},
    {values: coverageMa3, color: clusterColors.ma3, name: 'MA-3', base: 771.3, nameY: 763.3, rangeY: 756.7},
    {values: coverageMa1, color: '#f09a3c', name: 'MA-1', base: 790, nameY: 782.7, rangeY: 776}
];
coverageTracks.forEach(function (t) {
    new Chart(addCanvas(351, t.base - 19.5, 433, 20), {
        type: 'scatter',
        data: {datasets: [{data: t.values.map(function (v, i) { return {x: coverageBp[i], y: v}; }), showLine: true, fill: 'origin',
            backgroundColor: t.color, borderColor: t.color, borderWidth: 0.6, pointRadius: 0}]},
        options: {scales: {x: trackScaleX(), y: {display: false, min: -0.6, max: 36}}}
    });
    text('[0-36]', 351.7, t.rangeY, 6.2, {color: '#222'});
    text(t.name, 340, t.nameY, 13.4, {bold: true, right: true, color: t.color});
});
text('Genes', 340, 609, 13.4, {bold: true, right: true});
text('Selected', 340, 645, 13.4, {bold: true, right: true});
text('Motifs', 340, 661.7, 13.4, {bold: true, right: true});
text('Peaks', 340, 679, 13.4, {bold: true, right: true});
</script>
</body>
</html>
